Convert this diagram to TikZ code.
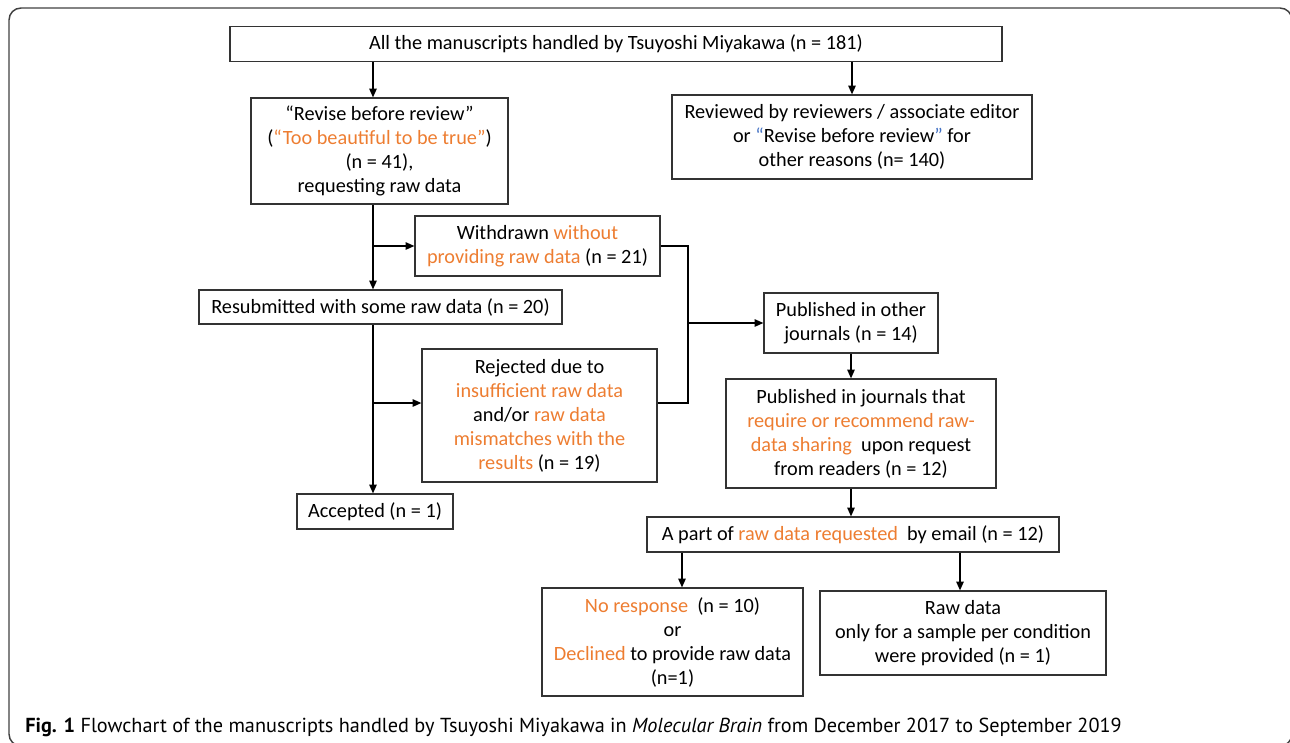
\documentclass[tikz,border=0pt]{standalone}
\usepackage{fontspec}
\setmainfont{Carlito}
\newfontfamily\capfont{PT Sans}
\usetikzlibrary{arrows.meta}
\definecolor{hlorange}{HTML}{ED7D31}
\definecolor{hlblue}{HTML}{4472C4}
\newcommand{\hl}[1]{\textcolor{hlorange}{#1}}

\begin{document}
\begin{tikzpicture}[x=0.75pt,y=-0.75pt,
    box/.style={draw=black!80,line width=0.9pt,inner sep=0pt,align=center,
      font=\fontsize{15.2}{18}\selectfont},
    sz/.style 2 args={minimum width=#1*0.75pt,minimum height=#2*0.75pt},
    flow/.style={draw=black,line width=1pt,-{Triangle[length=6.5pt,width=5.5pt]}},
    link/.style={draw=black,line width=1pt}]
    \useasboundingbox (0,0) rectangle (1290,743);
    \clip (0,0) rectangle (1290,743);
    \draw[black!75,line width=1.1pt,rounded corners=9] (9,8) rectangle (1292,746);

    % boxes
    \node[box,sz={772}{35}] (all) at (616,44) {All the manuscripts handled by Tsuyoshi Miyakawa (n = 181)};
    \node[box,sz={257}{106}] (rbr) at (379.5,151) {“Revise before review”\\(\hl{“Too beautiful to be true”})\\(n = 41),\\requesting raw data};
    \node[box,sz={360}{84}] (reviewed) at (852,137) {Reviewed by reviewers / associate editor\\or \textcolor{hlblue}{“}Revise before review\textcolor{hlblue}{”} for\\other reasons (n= 140)};
    \node[box,sz={245}{60}] (withdrawn) at (537.5,246) {Withdrawn \hl{without}\\\hl{providing raw data} (n = 21)};
    \node[box,sz={363}{34}] (resub) at (380.5,307) {Resubmitted with some raw data (n = 20)};
    \node[box,sz={235}{133}] (rejected) at (539.5,415.5) {Rejected due to\\\hl{insufficient raw data}\\and/or \hl{raw data}\\\hl{mismatches with the}\\\hl{results} (n = 19)};
    \node[box,sz={156}{35}] (accepted) at (375,511.5) {Accepted (n = 1)};
    \node[box,sz={174}{60}] (pubother) at (851,323) {Published in other\\journals (n = 14)};
    \node[box,sz={270}{109}] (pubreq) at (861,433.5) {Published in journals that\\\hl{require or recommend raw-}\\\hl{data sharing}\ \ upon request\\from readers (n = 12)};
    \node[box,sz={412}{35}] (part) at (853,534.5) {A part of \hl{raw data requested}\ \ by email (n = 12)};
    \node[box,sz={261}{108}] (noresp) at (672.5,642) {\hl{No response}\ \ (n = 10)\\or\\\hl{Declined} to provide raw data\\(n=1)};
    \node[box,sz={286}{84}] (rawdata) at (963,633) {Raw data\\only for a sample per condition\\were provided (n = 1)};

    % caption
    \node[anchor=base west,inner sep=0pt,font=\capfont\fontsize{15.2}{18}\selectfont] (caption) at (25,732)
      {\textbf{Fig. 1} Flowchart of the manuscripts handled by Tsuyoshi Miyakawa in \textit{Molecular Brain} from December 2017 to September 2019};

    % connectors
    \coordinate (spineL) at (373,0);
    \coordinate (spineR) at (852,0);
    \coordinate (spineM) at (851,0);
    \coordinate (lowbranch) at (0,403);
    \coordinate (merge) at (688,323);
    \coordinate (tapA) at (682,0);
    \coordinate (tapB) at (960,0);

    \draw[flow] (all.south -| spineL) -- (rbr.north -| spineL);
    \draw[flow] (all.south -| spineR) -- (reviewed.north -| spineR);
    \draw[flow] (rbr.south -| spineL) -- (resub.north -| spineL);
    \draw[flow] (spineL |- withdrawn.west) -- (withdrawn.west);
    \draw[flow] (resub.south -| spineL) -- (accepted.north -| spineL);
    \draw[flow] (spineL |- lowbranch) -- (rejected.west |- lowbranch);
    \draw[link] (withdrawn.east) -- (withdrawn.east -| merge) -- (merge |- lowbranch) -- (rejected.east |- lowbranch);
    \draw[flow] (merge) -- (pubother.west);
    \draw[flow] (pubother.south -| spineM) -- (pubreq.north -| spineM);
    \draw[flow] (pubreq.south -| spineM) -- (part.north -| spineM);
    \draw[flow] (part.south -| tapA) -- (noresp.north -| tapA);
    \draw[flow] (part.south -| tapB) -- (rawdata.north -| tapB);
\end{tikzpicture}
\end{document}
